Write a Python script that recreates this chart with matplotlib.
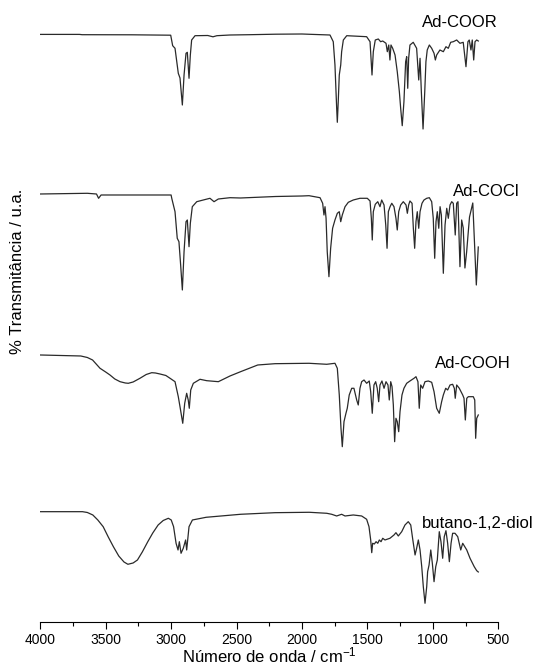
import numpy as np
import matplotlib
matplotlib.use("Agg")
from matplotlib import pyplot as plt

plt.rcParams['font.family'] = ['Liberation Sans', 'DejaVu Sans']
plt.rcParams['mathtext.default'] = 'regular'

# espectros FTIR (numero de onda em cm-1, transmitancia em u.a.)
coor_wn = [4000, 3700, 3680, 3300, 3003, 2988, 2970, 2945, 2932, 2914, 2901, 2886, 2876, 2863, 2853,
           2843, 2817, 2720, 2680, 2650, 2550, 2400, 2200, 2000, 1939, 1786, 1761, 1748, 1735, 1730,
           1723, 1715, 1704, 1697, 1684, 1658, 1506, 1480, 1465, 1455, 1440, 1417, 1399, 1383, 1358,
           1348, 1337, 1328, 1320, 1307, 1289, 1272, 1256, 1246, 1234, 1221, 1208, 1200, 1192, 1185,
           1175, 1150, 1124, 1108, 1098, 1088, 1075, 1062, 1053, 1043, 1027, 1009, 991, 981, 971,
           946, 920, 900, 882, 864, 844, 818, 793, 768, 747, 732, 722, 709, 699, 688, 678, 665, 653]
coor_t = [97.6, 97.6, 97.3, 97.2, 96.8, 86.3, 83.7, 58.7, 54, 27, 57, 78.7, 79.7, 53.7, 77,
          92, 96.3, 96.5, 95.2, 96.3, 97, 97.3, 97.8, 98.0, 97.7, 97, 90.3, 67, 24, 9.7,
          30.3, 57, 67, 80.3, 92, 96.3, 95.3, 90.3, 57, 80.3, 92, 93, 90.3, 91, 88.7,
          80.3, 87, 72, 87, 83.7, 77, 60.3, 40.3, 23.7, 6.3, 30.3, 70.3, 75.3, 43.7, 73.7,
          87, 89.7, 83.7, 52, 73.7, 40.3, 3, 40.3, 70.3, 82, 87, 83.7, 78.7, 72, 77,
          82, 80.3, 85.3, 83.7, 89.7, 90.3, 92, 88.7, 89.7, 65.3, 90.3, 92, 82, 92, 72, 90.3, 92, 91]

cocl_wn = [4000, 3640, 3570, 3554, 3535, 3000, 2995, 2970, 2953, 2940, 2927, 2914, 2901, 2886, 2876,
           2863, 2853, 2838, 2804, 2754, 2703, 2672, 2639, 2550, 2470, 2200, 2000, 1946, 1862, 1842,
           1832, 1824, 1816, 1807, 1794, 1781, 1766, 1748, 1730, 1715, 1704, 1692, 1671, 1646, 1608,
           1557, 1501, 1480, 1470, 1463, 1455, 1440, 1421, 1404, 1391, 1373, 1360, 1350, 1340, 1327,
           1314, 1297, 1282, 1272, 1261, 1246, 1226, 1205, 1195, 1185, 1175, 1159, 1149, 1139, 1129,
           1119, 1108, 1098, 1083, 1068, 1047, 1027, 1009, 997, 986, 976, 966, 955, 945, 935,
           920, 907, 894, 882, 869, 856, 844, 829, 818, 808, 793, 780, 768, 755, 742,
           720, 695, 668, 653]
cocl_t = [98, 98.7, 98, 93.7, 97, 97, 93.7, 80.3, 53.7, 50.3, 27, 2, 40.3, 70.3, 72,
          45.3, 68.7, 85.3, 90.3, 92, 93.7, 90.3, 93, 94.3, 94, 95.5, 96, 96.3, 94.3, 88.7,
          77, 85.3, 73.7, 40.3, 15.3, 43.7, 63.7, 72, 78.7, 80.3, 70.3, 77, 85.3, 89.7, 92,
          93.7, 93.7, 91, 73.7, 52, 80.3, 87.7, 90.3, 85.3, 92, 87, 67, 43.7, 80.3, 85.3,
          88.7, 85.3, 73.7, 62, 80.3, 87, 90.3, 87, 78.7, 87, 91, 88.7, 63.7, 43.7, 70.3,
          80.3, 63.7, 80.3, 88.7, 92, 93.7, 94.3, 90.3, 73.7, 33.7, 70.3, 80.3, 63.7, 85.3, 77,
          18.7, 67, 83.7, 73.7, 87, 90.3, 88.7, 57, 88.7, 90.3, 25.3, 72, 64, 24, 40,
          75, 89, 7, 45]

cooh_wn = [4000, 3690, 3640, 3600, 3543, 3500, 3467, 3430, 3390, 3350, 3327, 3290, 3238, 3190, 3148,
           3120, 3085, 3040, 3008, 2970, 2945, 2932, 2911, 2896, 2881, 2869, 2861, 2850, 2830, 2779,
           2728, 2639, 2550, 2469, 2338, 2206, 1946, 1811, 1748, 1730, 1715, 1702, 1692, 1679, 1664,
           1654, 1639, 1620, 1603, 1582, 1570, 1557, 1544, 1526, 1506, 1486, 1475, 1463, 1450, 1437,
           1425, 1414, 1404, 1389, 1373, 1358, 1343, 1333, 1322, 1312, 1302, 1292, 1282, 1272, 1261,
           1251, 1236, 1221, 1200, 1175, 1144, 1129, 1114, 1104, 1093, 1078, 1060, 1035, 1009, 991,
           971, 951, 933, 920, 902, 887, 869, 849, 836, 829, 818, 798, 772, 762, 752,
           741, 729, 691, 680, 673, 665, 653]
cooh_t = [97, 96, 94.5, 92, 83.7, 80, 77, 73, 70.3, 69, 68.7, 70, 73.7, 77.5, 79.3,
          79, 78, 76.5, 73.7, 70.3, 55.3, 45.3, 28.7, 48.7, 58.7, 52, 43.7, 62, 68.7, 72.7,
          71.3, 70.3, 76, 80.3, 87, 88.3, 88.7, 87.7, 88.7, 83.7, 57, 23.7, 5.3, 30.3, 38.7,
          43.7, 57, 63.7, 63.7, 52, 47, 63.7, 70.3, 72, 68.7, 71, 60.3, 38.7, 67, 70.3,
          63.7, 50.3, 67, 71, 63.7, 70.3, 67, 52, 70.3, 65.3, 47, 10.3, 33.7, 30.3, 20.3,
          40.3, 57, 63.7, 68.7, 71, 73.7, 75.3, 70.3, 43.7, 67, 63.7, 70.3, 71, 69.7, 60.3,
          43.7, 38.7, 50.3, 57, 63.7, 62, 67, 67.7, 63.7, 53.7, 67, 63.7, 57, 53.7, 32,
          53.7, 55.3, 55.3, 52, 13.7, 33.7, 37]

diol_wn = [4000, 3677, 3640, 3598, 3560, 3519, 3480, 3441, 3400, 3360, 3330, 3290, 3257, 3220, 3178,
           3140, 3099, 3060, 3021, 2999, 2981, 2962, 2947, 2937, 2924, 2907, 2889, 2881, 2863, 2837,
           2732, 2469, 2206, 1944, 1811, 1773, 1735, 1697, 1671, 1608, 1544, 1506, 1488, 1475, 1467,
           1460, 1447, 1434, 1421, 1409, 1396, 1383, 1366, 1328, 1297, 1282, 1264, 1238, 1213, 1188,
           1169, 1153, 1136, 1124, 1111, 1098, 1085, 1073, 1060, 1047, 1040, 1029, 1016, 1004, 991,
           978, 966, 951, 938, 925, 913, 900, 887, 874, 861, 849, 831, 810, 787, 772,
           741, 716, 684, 665, 653]
diol_t = [100.3, 100.3, 99.5, 97, 92, 85.3, 75, 65.3, 56, 50, 47.7, 49, 52, 60, 70.3,
          79, 87, 91.5, 93.7, 92, 85.3, 68.7, 62, 70.3, 58.7, 63.7, 72, 62, 85.3, 92,
          94.7, 97.7, 99.3, 99.7, 98.7, 97.7, 96, 97.7, 96, 97, 96, 92.7, 85.3, 72, 59.3,
          68.7, 68, 70.3, 68.7, 72, 70.3, 73.7, 72, 73.7, 77, 79.3, 76, 80.3, 87, 90.3,
          87, 72, 57, 63.7, 72, 62, 45.3, 25.3, 8.7, 25.3, 40.3, 47, 62, 48.7, 30.3,
          45.3, 52, 80.3, 70.3, 53.7, 75.3, 81.3, 68.7, 50.3, 68.7, 78.7, 78.7, 75.3, 62, 68.7,
          62, 53.7, 45.3, 41.3, 40]

nomes = ['Ad-COOR', 'Ad-COCl', 'Ad-COOH', 'butano-1,2-diol']
desvios = [490, 330, 170, 10]
label_wn = [1083, 846, 984, 1080]
label_t = [109.5, 100.5, 88, 88]

espectros = [(coor_wn, coor_t), (cocl_wn, cocl_t), (cooh_wn, cooh_t), (diol_wn, diol_t)]

fig = plt.figure(figsize=(5.39, 6.66), dpi=100)
ax = fig.add_axes([0.0746, 0.0661, 0.8499, 0.9339])

for (wn, t), d, nome, lx, ly in zip(espectros, desvios, nomes, label_wn, label_t):
    assert len(wn) == len(t)
    ax.plot(wn, np.array(t) + d, color='#2a2a2a', lw=0.9)
    ax.text(lx, ly + d, nome, fontsize=12, ha='left', va='center', clip_on=False)

ax.set_xlim(4000, 500)
ax.set_ylim(0, 622)
ax.set_xticks(np.arange(4000, 499, -500))
ax.set_xticks(np.arange(3750, 500, -500), minor=True)
ax.tick_params(axis='x', which='major', length=5, width=0.8, labelsize=10, pad=3)
ax.tick_params(axis='x', which='minor', length=3, width=0.8)
ax.set_yticks([])
for s in ['left', 'top', 'right']:
    ax.spines[s].set_visible(False)
ax.spines['bottom'].set_linewidth(0.8)
ax.set_xlabel('Número de onda / cm$^{-1}$', fontsize=12, labelpad=-1)
fig.text(0.033, 0.592, '% Transmitância / u.a.', rotation=90, fontsize=12,
         ha='center', va='center')

plt.savefig('out.png', dpi=100)
